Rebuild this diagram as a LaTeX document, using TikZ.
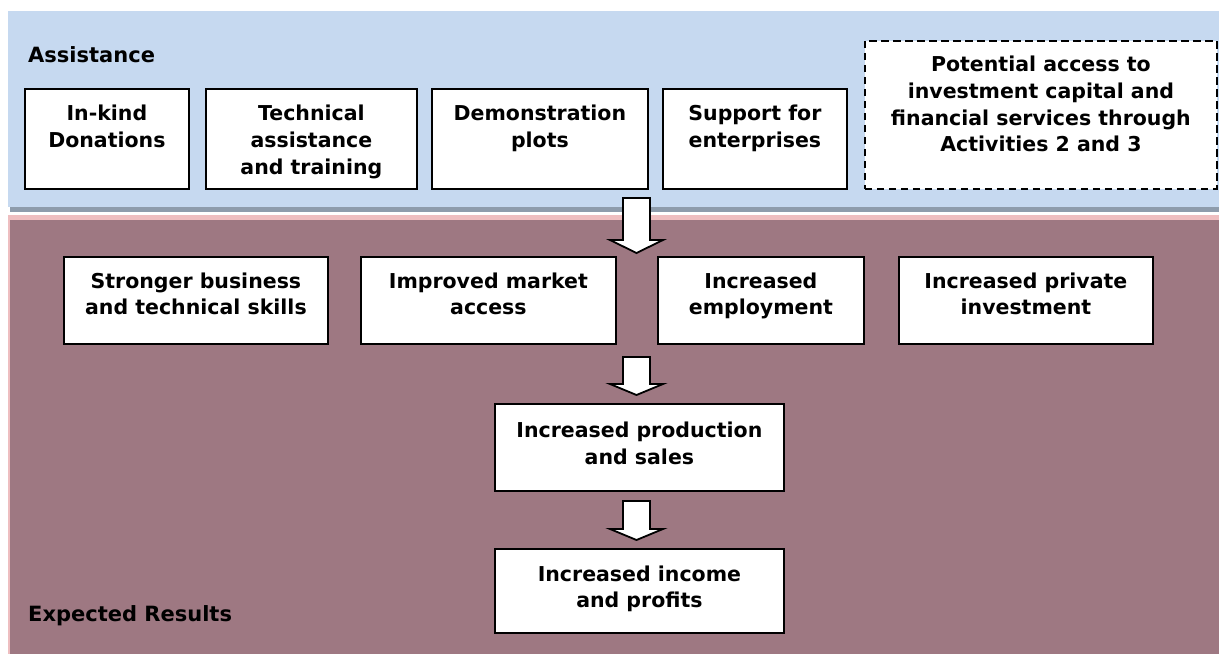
\documentclass[tikz,border=0pt]{standalone}
\usepackage{fontspec}
\setmainfont{DejaVu Sans}
\usetikzlibrary{calc}
\definecolor{bluebg}{RGB}{198,217,240}
\definecolor{shadowgray}{RGB}{142,156,172}
\definecolor{pinkedge}{RGB}{238,190,192}
\definecolor{mauve}{RGB}{158,120,130}
\begin{document}
\begin{tikzpicture}[x=1pt,y=-1pt,
  box/.style={draw=black, line width=1.8pt, fill=white, inner sep=0pt, anchor=north west},
  dbox/.style={box, dash pattern=on 7.5pt off 4.5pt},
  lbl/.style={anchor=north, align=center, inner sep=0pt, font=\fontsize{20.5}{26.7}\selectfont\bfseries},
  title/.style={anchor=base west, inner sep=0pt, font=\fontsize{21}{26.5}\selectfont\bfseries},
  blockarrow/.style={draw=black, line width=1.8pt, fill=white, line join=miter}
]
\useasboundingbox (0,0) rectangle (1219,654);
% backgrounds
\fill[bluebg] (8,11) rectangle (1219,207);
\fill[shadowgray] (10,207) rectangle (1219,212);
\fill[pinkedge] (8,215) rectangle (1219,654);
\fill[mauve] (10,220) rectangle (1219,654);

\node[title] (assist) at (28,62) {Assistance};
\node[title] (expected) at (28,621) {Expected Results};

% top row
\node[box, minimum width=164pt, minimum height=100pt] (b1) at (24,88) {};
\node[box, minimum width=211pt, minimum height=100pt] (b2) at (205,88) {};
\node[box, minimum width=216pt, minimum height=100pt] (b3) at (431,88) {};
\node[box, minimum width=184pt, minimum height=100pt] (b4) at (662,88) {};
\node[dbox, minimum width=352pt, minimum height=148pt] (b5) at (864,40) {};
\node[lbl] (t1) at ([yshift=-17pt]b1.north) {In-kind\\Donations};
\node[lbl] (t2) at ([yshift=-17pt]b2.north) {Technical\\assistance\\and training};
\node[lbl] (t3) at ([yshift=-17pt]b3.north) {Demonstration\\plots};
\node[lbl] (t4) at ([yshift=-17pt]b4.north) {Support for\\enterprises};
\node[lbl] (t5) at ([yshift=-16pt]b5.north) {Potential access to\\investment capital and\\financial services through\\Activities 2 and 3};

% middle row
\node[box, minimum width=264pt, minimum height=87pt] (m1) at (63,256) {};
\node[box, minimum width=255pt, minimum height=87pt] (m2) at (360,256) {};
\node[box, minimum width=206pt, minimum height=87pt] (m3) at (657,256) {};
\node[box, minimum width=254pt, minimum height=87pt] (m4) at (898,256) {};
\node[lbl] (u1) at ([yshift=-16.5pt]m1.north) {Stronger business\\and technical skills};
\node[lbl] (u2) at ([yshift=-16.5pt]m2.north) {Improved market\\access};
\node[lbl] (u3) at ([yshift=-16.5pt]m3.north) {Increased\\employment};
\node[lbl] (u4) at ([yshift=-16.5pt]m4.north) {Increased private\\investment};

% lower boxes
\node[box, minimum width=289pt, minimum height=87pt] (prod) at (494,403) {};
\node[lbl] (prodt) at ([yshift=-19pt]prod.north) {Increased production\\and sales};
\node[box, minimum width=289pt, minimum height=84pt] (inc) at (494,548) {};
\node[lbl] (inct) at ([yshift=-17.5pt]inc.north) {Increased income\\and profits};

% block arrows
\coordinate (a1s) at (636.5,198); \coordinate (a1e) at (636.5,253);
\coordinate (a2s) at (636.5,357); \coordinate (a2e) at (prod.north -| a2s);
\coordinate (a3s) at (636.5,501); \coordinate (a3e) at (inc.north -| a3s);
\draw[blockarrow] ($(a1s)+(-13.5,0)$) -- ($(a1s)+(13.5,0)$) -- ($(a1e)+(13.5,-13)$) -- ($(a1e)+(26.5,-13)$) -- (a1e) -- ($(a1e)+(-26.5,-13)$) -- ($(a1e)+(-13.5,-13)$) -- cycle;
\draw[blockarrow] ($(a2s)+(-13.5,0)$) -- ($(a2s)+(13.5,0)$) -- ($(a2e)+(13.5,-19)$) -- ($(a2e)+(26.5,-19)$) -- ($(a2e)+(0,-8)$) -- ($(a2e)+(-26.5,-19)$) -- ($(a2e)+(-13.5,-19)$) -- cycle;
\draw[blockarrow] ($(a3s)+(-13.5,0)$) -- ($(a3s)+(13.5,0)$) -- ($(a3e)+(13.5,-19)$) -- ($(a3e)+(26.5,-19)$) -- ($(a3e)+(0,-8)$) -- ($(a3e)+(-26.5,-19)$) -- ($(a3e)+(-13.5,-19)$) -- cycle;
\end{tikzpicture}
\end{document}
